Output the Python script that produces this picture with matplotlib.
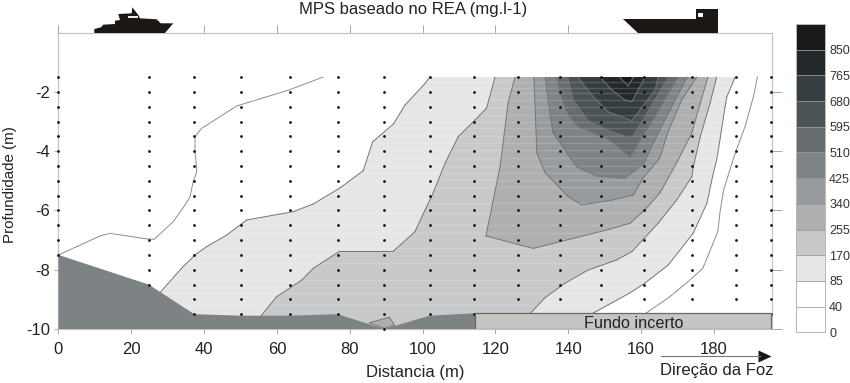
import matplotlib
matplotlib.use('Agg')
import matplotlib.pyplot as plt
from matplotlib.patches import Polygon, Rectangle

plt.rcParams['font.family'] = ['Liberation Sans', 'DejaVu Sans']
plt.rcParams['axes.unicode_minus'] = False

# sampling stations and the depth of the last sample in each one
station_x = [0, 24.8, 37.3, 50.2, 63.5, 76.7, 89.5, 102, 114.2, 126.2, 137.7, 149, 160.9, 174, 186, 195.8]
station_bottom = [-7.5, -8.5, -9.5, -9.5, -9.5, -9.5, -10, -9.5, -9.5, -9.5, -9.5, -9.5, -9.5, -9.5, -9.5, -9.5]
sample_depths = [-1.5, -2, -2.5, -3, -3.5, -4, -4.5, -5, -5.5, -6, -6.5, -7, -7.5, -8, -8.5, -9, -9.5, -10]

# river bed and the stretch where it is uncertain
bed_x = [0, 24.8, 37.3, 50, 63.5, 76.7, 89.5, 102, 114.5, 114.5, 0]
bed_y = [-7.5, -8.5, -9.5, -9.55, -9.55, -9.5, -10, -9.55, -9.47, -10, -10]
uncertain_x = [114.5, 195.8]
uncertain_y = [-10, -9.47]

# contour lines (distance, depth)
c40_left_x = [72.6, 63.4, 49, 39.3, 37.5, 37.5, 38, 37, 36.1, 34.8, 31.5, 26.3, 24.2, 14.1, 11.4, 0]
c40_left_y = [-1.5, -1.93, -2.47, -3.23, -3.51, -3.96, -4.69, -5.03, -5.55, -5.81, -6.38, -6.97, -6.96, -6.77, -6.86, -7.5]
c40_right_x = [192, 190.9, 188.6, 185.9, 182.7, 181.8, 181.1, 177, 173, 167.5, 161.1]
c40_right_y = [-1.5, -2.16, -3.17, -4.06, -5.31, -5.98, -6.72, -7.95, -8.4, -8.95, -9.49]

c85_x = [27.9, 33.8, 37.5, 40.7, 46.2, 51.7, 64.5, 70, 77.3, 83.7, 86.3, 92, 95.2, 100.7, 102,
         185.9, 183.6, 183.1, 181.7, 180.8, 179.9, 178.1, 174.4, 167.5, 161.1, 157, 146.5, 146.5, 27.9]
c85_y = [-8.77, -7.95, -7.5, -7.22, -6.83, -6.32, -6.04, -5.78, -5.24, -4.66, -3.68, -3.08, -2.44, -1.71, -1.5,
         -1.5, -2.16, -2.5, -3.62, -4.3, -4.73, -5.76, -6.76, -7.84, -8.45, -8.78, -9.49, -10, -10]
c170_x = [55.6, 59.9, 66.8, 70, 77.3, 92, 97.9, 100.7, 102.5, 106.2, 109.8, 114.4, 117.6, 119.9,
          180.8, 179, 176.3, 174.4, 174, 169.8, 164.8, 157.5, 153.3, 145.5, 139.2, 133.6, 129.5, 129.5, 55.6]
c170_y = [-9.56, -8.91, -8.35, -7.95, -7.37, -7.37, -6.72, -5.98, -5.53, -4.4, -3.51, -2.95, -2.54, -1.5,
          -1.5, -2.37, -3.51, -4.52, -4.86, -5.65, -6.42, -7.39, -7.67, -8.01, -8.45, -8.95, -9.49, -10, -10]
c255_x = [125.4, 123.5, 121.3, 117.4, 130.4, 151.5, 157, 161.1, 165.2, 170.2, 174, 176.3, 178.4]
c255_y = [-1.5, -2.37, -4.52, -6.86, -7.28, -6.63, -6.43, -5.98, -5.41, -4.3, -3.38, -2.37, -1.5]
pocket_x = [85.4, 90.9, 92.3, 89.5]
pocket_y = [-9.79, -9.6, -9.87, -9.98]
c340_x = [130.6, 131.4, 133.7, 140, 143.7, 152, 157.9, 160.6, 165.2, 167.5, 171.2, 175.3]
c340_y = [-1.5, -4.06, -4.73, -5.53, -5.81, -5.65, -5.48, -4.9, -4.23, -3.32, -2.27, -1.5]
c425_x = [133.7, 134.5, 135.8, 137.8, 140.5, 142.4, 147.9, 155.6, 160.7, 162.5, 165.2, 169.4, 172.7]
c425_y = [-1.5, -2.27, -3.38, -3.72, -4.21, -4.53, -4.84, -4.91, -4.43, -3.96, -3.28, -2.27, -1.5]
c510_x = [136.9, 137.8, 139.8, 142.8, 151.5, 157, 160.6, 163.9, 167.5, 170.2]
c510_y = [-1.5, -2.04, -2.72, -3.17, -3.62, -4.21, -3.45, -2.83, -2.04, -1.5]
c595_x = [139.9, 141.4, 145.5, 152, 157.5, 161.1, 167.5]
c595_y = [-1.5, -2.27, -2.97, -3.34, -3.56, -2.83, -1.5]
c680_x = [142.7, 146.5, 151, 157.5, 163.9, 164.7]
c680_y = [-1.5, -2.1, -2.67, -2.97, -1.93, -1.5]
c765_x = [148.8, 152, 155.6, 157.5, 161.1]
c765_y = [-1.5, -1.93, -2.27, -2.33, -1.5]
c850_x = [154.1, 157.9, 156.5]
c850_y = [-1.5, -1.5, -1.8]

# pale scan streaks running across the filled bands
streak_depths = [-1.66, -1.87, -2.04, -2.27, -2.51, -2.78, -3.01, -3.22, -3.49, -3.72, -3.96, -4.23, -4.5,
                 -4.73, -4.97, -5.21, -5.75, -6.08, -6.49, -6.76, -7.27, -7.77, -8.35, -8.78, -9.19]

level_labels = ['0', '40', '85', '170', '255', '340', '425', '510', '595', '680', '765', '850']
level_colors = ['#ffffff', '#ffffff', '#e6e6e6', '#c8c9ca', '#adafb1', '#989b9e',
                '#7e8385', '#666b6d', '#4c5355', '#363d40', '#222829', '#17191a']

fig = plt.figure(figsize=(8.5, 3.83), dpi=100)
ax = fig.add_axes([58.5 / 850, 1 - 329 / 383, 713.5 / 850, 296.3 / 383])

line_color = '#737577'
filled = [(c85_x, c85_y, 2), (c170_x, c170_y, 3), (c255_x, c255_y, 4), (pocket_x, pocket_y, 4),
          (c340_x, c340_y, 5), (c425_x, c425_y, 6), (c510_x, c510_y, 7), (c595_x, c595_y, 8),
          (c680_x, c680_y, 9), (c765_x, c765_y, 10), (c850_x, c850_y, 11)]
for xs, ys, idx in filled:
    ax.fill(xs, ys, facecolor=level_colors[idx], edgecolor='none', zorder=2)
    # the contour line stops at the top sample row, so skip the flat closing segments
    pts = list(zip(xs, ys)) + [(xs[0], ys[0])]
    for (x0, y0), (x1, y1) in zip(pts[:-1], pts[1:]):
        if y0 == y1 == -1.5 or y0 == -10 or y1 == -10:
            continue
        ax.plot([x0, x1], [y0, y1], color=line_color, linewidth=0.7, zorder=2.2,
                solid_capstyle='round')

ax.hlines(streak_depths, 0, 196, color='white', alpha=0.16, linewidth=1.0, zorder=2.1)

ax.plot(c40_left_x, c40_left_y, color='#8a8a8a', linewidth=0.7, zorder=2)
ax.plot(c40_right_x, c40_right_y, color='#8a8a8a', linewidth=0.7, zorder=2)

ax.fill(bed_x, bed_y, facecolor='#7d8284', edgecolor='none', zorder=3)

# sample points
for x, bottom in zip(station_x, station_bottom):
    depths = [d for d in sample_depths if d >= bottom]
    ax.plot([x] * len(depths), depths, linestyle='none', marker='o', color='#111111',
            markersize=2.0, markeredgewidth=0, zorder=4, clip_on=False)

ax.add_patch(Rectangle((uncertain_x[0], uncertain_y[0]), uncertain_x[1] - uncertain_x[0],
                       uncertain_y[1] - uncertain_y[0], facecolor='#c5c5c1',
                       edgecolor='#6a6a6a', linewidth=0.9, zorder=5))
ax.text(158, -9.83, 'Fundo incerto', ha='center', va='center',
        fontsize=11.7, color='#222222', zorder=6)

ax.set_xlim(0, 196)
ax.set_ylim(-10, 0)
ax.set_xticks(range(0, 200, 20))
ax.set_yticks([-2, -4, -6, -8, -10])
ax.tick_params(axis='x', direction='out', length=3.5, width=0.7, color='#aaaaaa',
               labelsize=12, labelcolor='#222222', pad=5.5, top=True)
ax.tick_params(axis='y', direction='out', length=3, width=0.7, color='#aaaaaa',
               labelsize=12, labelcolor='#222222', pad=3, right=True)
for spine in ax.spines.values():
    spine.set_color('#c4c4c4')
    spine.set_linewidth(0.9)
    spine.set_zorder(1)

# longer outer ticks on the top and right sides
for tick in ax.xaxis.get_major_ticks():
    tick.tick2line.set_markersize(6)
for tick in ax.yaxis.get_major_ticks():
    tick.tick2line.set_markersize(7)

ax.set_xlabel('Distancia (m)', fontsize=12, color='#222222')
ax.xaxis.set_label_coords((415 - 58.5) / 713.5, -(372 - 329) / 296.3)
ax.xaxis.label.set_va('center')
ax.set_ylabel('Profundidade (m)', fontsize=10.9, color='#222222')
ax.yaxis.set_label_coords((10 - 58.5) / 713.5, (329 - 185) / 296.3)
ax.yaxis.label.set_va('center')
ax.set_title('MPS baseado no REA (mg.l-1)', fontsize=12, color='#222222', pad=0,
             x=(413.5 - 58.5) / 713.5, y=(329 - 14) / 296.3)

# colour scale
cax = fig.add_axes([795.7 / 850, 1 - 332.3 / 383, 29.3 / 850, 308.3 / 383])
cax.barh(range(len(level_colors)), [1] * len(level_colors), height=1, align='edge',
         color=level_colors, edgecolor='#9a9a9a', linewidth=0.5)
cax.set_xlim(0, 1)
cax.set_ylim(0, len(level_colors))
cax.set_xticks([])
cax.yaxis.tick_right()
cax.set_yticks(range(len(level_labels)))
cax.set_yticklabels(level_labels)
cax.tick_params(axis='y', length=0, pad=3, labelsize=9, labelcolor='#333333')
for spine in cax.spines.values():
    spine.set_color('#b8b8b8')
    spine.set_linewidth(0.7)

# ships and flow arrow, placed in image pixels
over = fig.add_axes([0, 0, 1, 1], zorder=10)
over.set_xlim(0, 850)
over.set_ylim(383, 0)
over.axis('off')

boat = [(94.3, 33), (94.3, 29), (101, 27.3), (103.3, 24.7), (115, 24), (115, 20.7), (120, 20),
        (118.3, 14), (131.7, 13.3), (132.3, 7.3), (138.3, 15), (140, 18.3), (156.7, 19.3),
        (160.7, 23.3), (173.3, 23.3), (165, 33)]
over.add_patch(Polygon(boat, closed=True, facecolor='#1c1715', edgecolor='none'))
over.add_patch(Rectangle((128.3, 16), 10, 1.7, facecolor='#e8e8e8', edgecolor='none'))

ship = [(623.3, 19.3), (695.7, 19.3), (695.7, 9.3), (718.3, 9.3), (718.3, 32.7), (638.3, 32.7)]
over.add_patch(Polygon(ship, closed=True, facecolor='#1c1715', edgecolor='none'))
over.add_patch(Rectangle((698.3, 12.7), 5, 4.7, facecolor='white', edgecolor='none'))

over.plot([661, 760], [356, 356], color='#777777', linewidth=0.8)
over.add_patch(Polygon([(758.5, 350.5), (771.5, 356.5), (758.5, 362.5)], closed=True,
                       facecolor='#1c1715', edgecolor='none'))
over.text(716.5, 371, 'Direção da Foz', ha='center', va='center', fontsize=12, color='#222222')

fig.savefig('out.png', dpi=100)
